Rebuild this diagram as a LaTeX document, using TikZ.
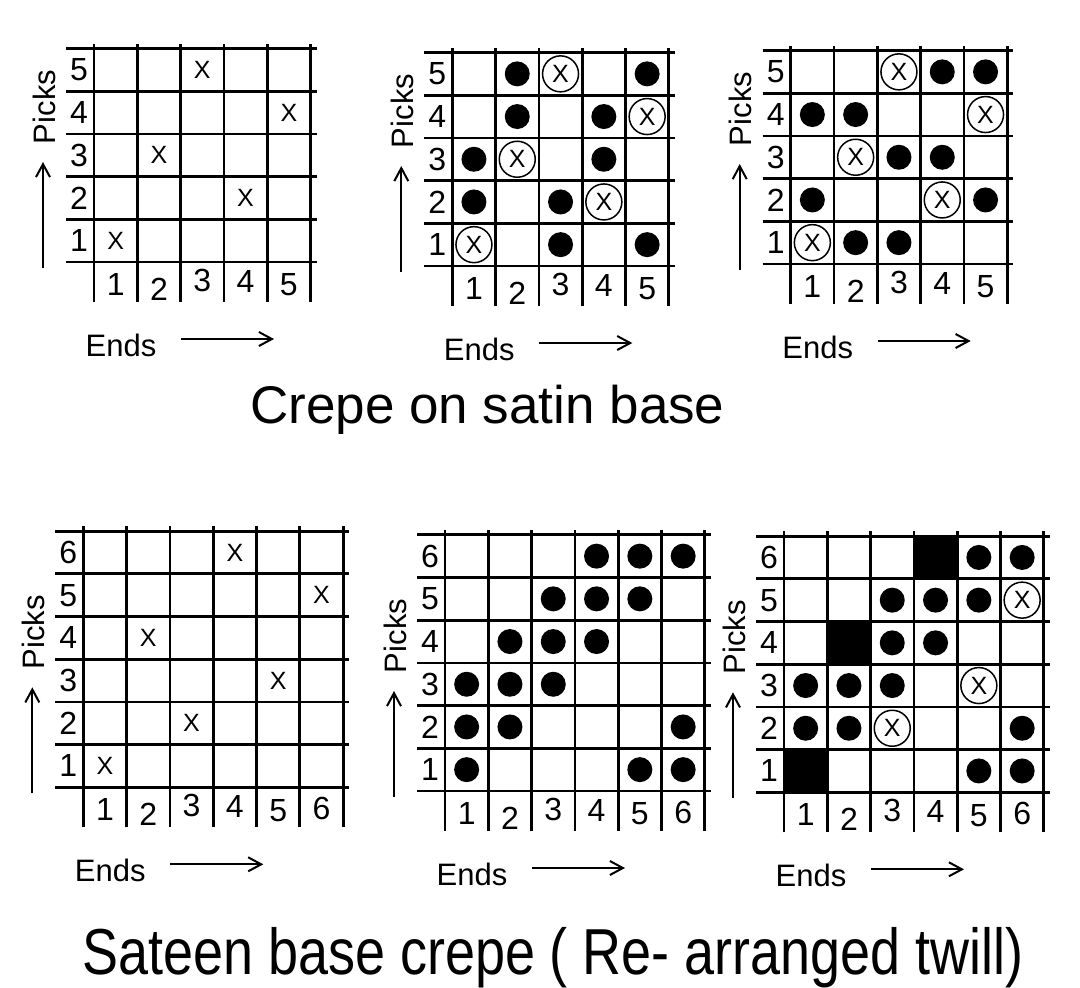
\documentclass[tikz,border=0pt]{standalone}
\usepackage{fontspec}
\setmainfont{Liberation Sans}
\usetikzlibrary{arrows.meta}
\tikzset {
    grid line/.style = {line width = 2.8pt},
    axis arrow/.style = {
        line width = 2pt,
        -{Straight Barb[length = 13pt, width = 14pt, line width = 2pt]}
    },
    count label/.style = {inner sep = 0pt, font = \fontsize{32}{32}\selectfont},
    axis label/.style = {inner sep = 0pt, font = \fontsize{31}{31}\selectfont},
    plain x/.style = {inner sep = 0pt, font = \fontsize{25}{25}\selectfont},
    weft dot/.style = {circle, fill, inner sep = 0pt, minimum size = 25pt},
    ringed x/.style = {
        circle, draw, line width = 1.5pt, inner sep = 0pt,
        minimum size = 36pt, font = \fontsize{25}{25}\selectfont
    },
    solid cell/.style = {
        fill, inner sep = 0pt,
        minimum width = 43.3pt, minimum height = 42.7pt
    },
    heading/.style = {inner sep = 0pt, anchor = base west},
    %
    weave grid/.pic = {
        \foreach \r in {0,...,#1}
            \draw [grid line] ([xshift = -28pt]0, \r) -- ([xshift = 6pt]#1, \r);
        \foreach \c in {0,...,#1}
            \draw [grid line] ([yshift = -40pt]\c, 0) -- ([yshift = 5pt]\c, #1);
        \foreach \r in {1,...,#1}
            \node [count label] (-r\r) at ([xshift = -15pt]0, \r - 0.5) {\r};
        \foreach \c/\dy in {1/22, 2/27, 3/18, 4/19.5, 5/23, 6/21} {
            \ifnum\c>#1 \else
                \node [count label] (-c\c) at ([yshift = -\dy pt]\c - 0.5, 0) {\c};
            \fi
        }
        \coordinate (-pa) at ([xshift = -51pt, yshift = -6pt]0, 0);
        \coordinate (-pb) at ([xshift = -51pt, yshift = 100pt]0, 0);
        \draw [axis arrow] (-pa) -- (-pb);
        \node [axis label, rotate = 90] (-picks) at ([xshift = -50pt, yshift = 155pt]0, 0) {Picks};
        \coordinate (-ea) at ([xshift = 87pt, yshift = -77pt]0, 0);
        \coordinate (-eb) at ([xshift = 180pt, yshift = -77pt]0, 0);
        \draw [axis arrow] (-ea) -- (-eb);
        \node [axis label] (-ends) at ([xshift = 27pt, yshift = -83pt]0, 0) {Ends};
    }
}

\begin{document}
\begin{tikzpicture}[x = 1pt, y = -1pt]
    \useasboundingbox (0, 0) rectangle (1080, 988);
    % crepe on satin base
    \begin{scope}[shift = {(94, 262)}, x = 43.3pt, y = 42.7pt]
        \pic (ga) {weave grid = 5};
        \foreach \c/\r in {1/1, 4/2, 2/3, 5/4, 3/5}
            \node [plain x] (ga-x\c\r) at (\c - 0.5, \r - 0.5) {X};
    \end{scope}
    \begin{scope}[shift = {(452.3, 266)}, x = 43.3pt, y = 42.7pt]
        \pic (gb) {weave grid = 5};
        \foreach \c/\r in {2/5, 5/5, 2/4, 4/4, 1/3, 4/3, 1/2, 3/2, 3/1, 5/1}
            \node [weft dot] (gb-d\c\r) at (\c - 0.5, \r - 0.5) {};
        \foreach \c/\r in {3/5, 5/4, 2/3, 4/2, 1/1}
            \node [ringed x] (gb-x\c\r) at (\c - 0.5, \r - 0.5) {X};
    \end{scope}
    \begin{scope}[shift = {(790.7, 264)}, x = 43.3pt, y = 42.7pt]
        \pic (gc) {weave grid = 5};
        \foreach \c/\r in {4/5, 5/5, 1/4, 2/4, 3/3, 4/3, 1/2, 5/2, 2/1, 3/1}
            \node [weft dot] (gc-d\c\r) at (\c - 0.5, \r - 0.5) {};
        \foreach \c/\r in {3/5, 5/4, 2/3, 4/2, 1/1}
            \node [ringed x] (gc-x\c\r) at (\c - 0.5, \r - 0.5) {X};
    \end{scope}
    \node [heading, font = \fontsize{53}{53}\selectfont] (crepe) at (250, 423) {Crepe on satin base};
    % sateen base crepe
    \begin{scope}[shift = {(83.3, 787.3)}, x = 43.3pt, y = 42.7pt]
        \pic (gd) {weave grid = 6};
        \foreach \c/\r in {1/1, 3/2, 5/3, 2/4, 6/5, 4/6}
            \node [plain x] (gd-x\c\r) at (\c - 0.5, \r - 0.5) {X};
    \end{scope}
    \begin{scope}[shift = {(445, 791)}, x = 43.3pt, y = 42.7pt]
        \pic (ge) {weave grid = 6};
        \foreach \c/\r in {4/6, 5/6, 6/6, 3/5, 4/5, 5/5, 2/4, 3/4, 4/4,
                           1/3, 2/3, 3/3, 1/2, 2/2, 6/2, 1/1, 5/1, 6/1}
            \node [weft dot] (ge-d\c\r) at (\c - 0.5, \r - 0.5) {};
    \end{scope}
    \begin{scope}[shift = {(784, 792.3)}, x = 43.3pt, y = 42.7pt]
        \pic (gf) {weave grid = 6};
        \foreach \c/\r in {1/1, 2/4, 4/6}
            \node [solid cell] (gf-s\c\r) at (\c - 0.5, \r - 0.5) {};
        \foreach \c/\r in {5/6, 6/6, 3/5, 4/5, 5/5, 3/4, 4/4, 1/3, 2/3,
                           3/3, 1/2, 2/2, 6/2, 5/1, 6/1}
            \node [weft dot] (gf-d\c\r) at (\c - 0.5, \r - 0.5) {};
        \foreach \c/\r in {6/5, 5/3, 3/2}
            \node [ringed x] (gf-x\c\r) at (\c - 0.5, \r - 0.5) {X};
    \end{scope}
    \node [heading] (sateen) at (82, 974)
        {\scalebox{0.83}[1]{\fontsize{65}{65}\selectfont Sateen base crepe ( Re- arranged twill)}};
\end{tikzpicture}
\end{document}
